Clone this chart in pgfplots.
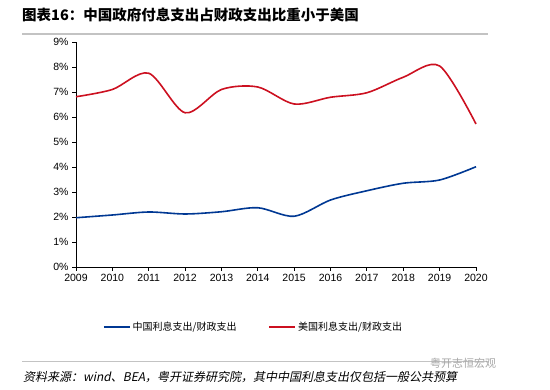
\documentclass[border=0pt]{standalone}
\usepackage{pgfplots}
\pgfplotsset{compat=1.18}
\usepackage{fontspec}
\setmainfont{Liberation Sans}
\newfontfamily\cjk{Noto Sans CJK SC}
\newfontfamily\cjkit[FakeSlant=0.2]{Noto Sans CJK SC}
\definecolor{cnblue}{RGB}{0,56,147}
\definecolor{usred}{RGB}{204,16,32}
\definecolor{rulegray}{RGB}{195,195,195}
\begin{document}
\begin{tikzpicture}
\useasboundingbox (0pt,0pt) rectangle (550pt,390pt);
% title
\node[anchor=west,inner sep=0pt] at (22pt,375pt) {\cjk\bfseries\fontsize{14.5}{16}\selectfont 图表16：中国政府付息支出占财政支出比重小于美国};
\draw[rulegray,line width=1.5pt] (22pt,356pt) -- (488pt,356pt);
\begin{axis}[
  at={(76pt,123pt)}, anchor=south west,
  width=400pt, height=225pt, scale only axis,
  xmin=2009, xmax=2020, ymin=0, ymax=9,
  axis x line*=bottom, axis y line*=left,
  axis line style={black, line width=0.8pt},
  xtick={2009,...,2020}, ytick={0,...,9},
  tick style={black, line width=0.8pt},
  tick align=outside, major tick length=4pt,
  xticklabel style={/pgf/number format/1000 sep={}, font=\fontsize{10.5}{12}\selectfont},
  yticklabel={\pgfmathprintnumber{\tick}\%},
  yticklabel style={font=\fontsize{10.5}{12}\selectfont},
  /pgf/number format/assume math mode=true,
  legend style={at={(0.444,-0.267)}, anchor=center, draw=none, fill=none,
    legend columns=2, font=\cjk\fontsize{10}{12}\selectfont,
    /tikz/every even column/.append style={column sep=30pt}},
  legend image code/.code={\draw[#1] (0pt,0pt) -- (26pt,0pt);},
  clip=false,
]
\addplot[cnblue, line width=1.6pt, smooth, tension=0.5] coordinates {
(2009,1.97) (2010,2.08) (2011,2.20) (2012,2.12) (2013,2.21) (2014,2.37)
(2015,2.03) (2016,2.68) (2017,3.05) (2018,3.35) (2019,3.48) (2020,4.01)};
\addlegendentry{中国利息支出/财政支出}
\addplot[usred, line width=1.6pt, smooth, tension=0.5] coordinates {
(2009,6.81) (2010,7.10) (2011,7.75) (2012,6.17) (2013,7.10) (2014,7.20)
(2015,6.52) (2016,6.79) (2017,6.97) (2018,7.59) (2019,8.04) (2020,5.72)};
\addlegendentry{美国利息支出/财政支出}
\end{axis}
% bottom rule and source
\draw[rulegray,line width=1pt] (22pt,28pt) -- (488pt,28pt);
\node[anchor=west,inner sep=0pt] at (23pt,13pt) {\cjkit\fontsize{12}{14}\selectfont 资料来源：wind、BEA，粤开证券研究院，其中中国利息支出仅包括一般公共预算};
\node[anchor=west,inner sep=0pt,text=gray!70] at (430pt,27pt) {\cjk\fontsize{11}{13}\selectfont 粤开志恒宏观};
\end{tikzpicture}
\end{document}
